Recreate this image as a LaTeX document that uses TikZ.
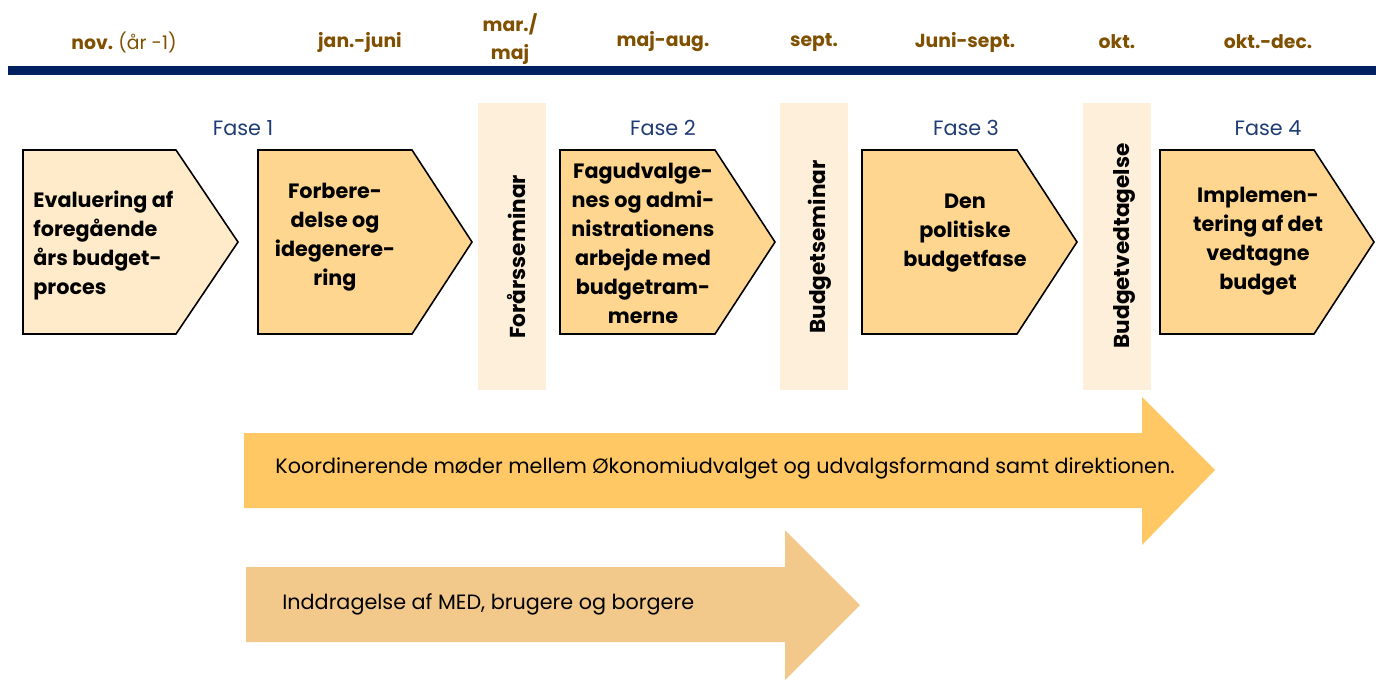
\documentclass[tikz,border=0pt]{standalone}
\usepackage{fontspec}
\setmainfont{Poppins}
\usetikzlibrary{positioning}
\definecolor{navy}{HTML}{002060}
\definecolor{monthbrown}{HTML}{7F5000}
\definecolor{fasecol}{HTML}{1F3B73}
\definecolor{pale}{HTML}{FFEBC9}
\definecolor{gold}{HTML}{FED690}
\definecolor{bandcol}{HTML}{FEEFDB}
\definecolor{arrowa}{HTML}{FFC864}
\definecolor{arrowb}{HTML}{F2C98B}
\tikzset{
    chev/.style = {
        draw,
        line width=0.9pt,
        line join=miter
    },
    seminar/.style = {
        fill=bandcol,
        draw=none
    },
    month/.style = {
        text=monthbrown,
        font=\bfseries\fontsize{10.7}{16}\selectfont,
        align=center,
        inner sep=0pt
    },
    fase/.style = {
        text=fasecol,
        font=\fontsize{11.8}{13}\selectfont,
        inner sep=0pt
    },
    chevtext/.style = {
        font=\bfseries\fontsize{11.8}{16.5}\selectfont,
        align=center,
        inner sep=0pt
    },
    semtext/.style = {
        font=\bfseries\fontsize{12.3}{14}\selectfont,
        rotate=90,
        inner sep=0pt
    },
    arrowtext/.style = {
        font=\fontsize{11.8}{13}\selectfont,
        anchor=west,
        inner sep=0pt
    },
}

\begin{document}
\begin{tikzpicture}[x=0.02cm, y=-0.02cm]
    \useasboundingbox (0,0) rectangle (1376,691);

    % months
    \node[month] (nov) at (124,42) {nov. \mdseries(år -1)};
    \node[month] (jan) at (360,42) {jan.-juni};
    \node[month] (mar) at (510,39) {mar./\\maj};
    \node[month] (maj) at (663,42) {maj-aug.};
    \node[month] (sep) at (814,42) {sept.};
    \node[month] (jun) at (965,42) {Juni-sept.};
    \node[month] (okt) at (1117,42) {okt.};
    \node[month] (dec) at (1268,42) {okt.-dec.};
    \fill[navy] (8,66) rectangle (1376,75);

    % seminars
    \fill[seminar] (478,103) rectangle (546,390);
    \fill[seminar] (780,103) rectangle (848,390);
    \fill[seminar] (1083,103) rectangle (1151,390);
    \node[semtext] (forsem) at (516,257) {Forårsseminar};
    \node[semtext] (budsem) at (820,247) {Budgetseminar};
    \node[semtext] (budved) at (1124,246) {Budgetvedtagelse};

    % phases
    \node[fase] (fase1) at (243,128) {Fase 1};
    \node[fase] (fase2) at (663,128) {Fase 2};
    \node[fase] (fase3) at (966,128) {Fase 3};
    \node[fase] (fase4) at (1268,128) {Fase 4};

    \draw[chev, fill=pale] (23,150) -- (176,150) -- (238,242) -- (176,334) -- (23,334) -- cycle;
    \draw[chev, fill=gold] (258,150) -- (412,150) -- (472,242) -- (412,334) -- (258,334) -- cycle;
    \draw[chev, fill=gold] (560,150) -- (715,150) -- (775,242) -- (715,334) -- (560,334) -- cycle;
    \draw[chev, fill=gold] (862,150) -- (1017,150) -- (1077,242) -- (1017,334) -- (862,334) -- cycle;
    \draw[chev, fill=gold] (1160,150) -- (1314,150) -- (1374,242) -- (1314,334) -- (1160,334) -- cycle;

    \node[chevtext, align=left, anchor=west] (eval) at (33,245) {Evaluering af\\foregående\\års budget-\\proces};
    \node[chevtext] (forb) at (335,237) {Forbere-\\delse og\\idegenere-\\ring};
    \node[chevtext] (fagud) at (643,243) {Fagudvalge-\\nes og admi-\\nistrationens\\arbejde med\\budgetram-\\merne};
    \node[chevtext] (polit) at (965,233) {Den\\politiske\\budgetfase};
    \node[chevtext] (impl) at (1258,241) {Implemen-\\tering af det\\vedtagne\\budget};

    % long arrows
    \fill[arrowa] (244,433) -- (1142,433) -- (1142,397) -- (1215,470) -- (1142,545) -- (1142,508) -- (244,508) -- cycle;
    \fill[arrowb] (246,567) -- (785,567) -- (785,530) -- (860,605) -- (785,680) -- (785,642) -- (246,642) -- cycle;
    \node[arrowtext] (koord) at (275,468) {Koordinerende møder mellem Økonomiudvalget og udvalgsformand samt direktionen.};
    \node[arrowtext] (indd) at (282,604) {Inddragelse af MED, brugere og borgere};
\end{tikzpicture}
\end{document}
